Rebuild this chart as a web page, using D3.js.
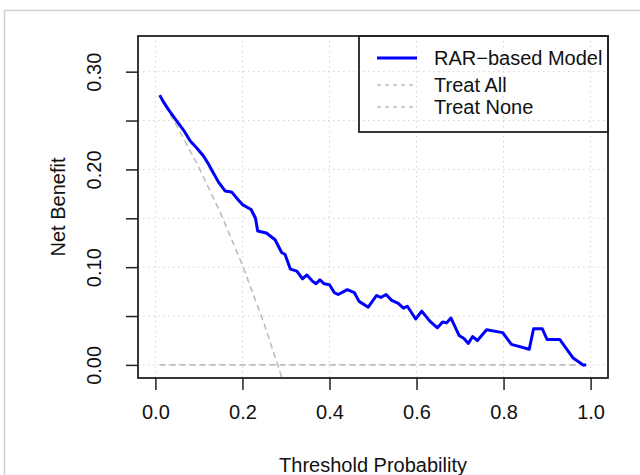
<!DOCTYPE html>
<html>
<head>
<meta charset="utf-8">
<script src="https://cdn.jsdelivr.net/npm/d3@7"></script>
<style>
    body { margin: 0; background: #fff; }
    text { font-family: "Liberation Sans", Arial, sans-serif; fill: #111; }
</style>
</head>
<body>
<script>
// decision curve values
var thresholds = [0.01, 0.02, 0.035, 0.05, 0.065, 0.08, 0.095, 0.11, 0.12, 0.13, 0.145, 0.16, 0.175, 0.19, 0.20,
    0.22, 0.23, 0.235, 0.255, 0.275, 0.29, 0.298, 0.31, 0.325, 0.338, 0.348, 0.36, 0.369, 0.378, 0.388, 0.40,
    0.411, 0.42, 0.441, 0.457, 0.468, 0.489, 0.508, 0.518, 0.53, 0.543, 0.558, 0.57, 0.579, 0.598, 0.612, 0.63,
    0.648, 0.66, 0.669, 0.679, 0.698, 0.709, 0.719, 0.729, 0.74, 0.761, 0.798, 0.818, 0.859, 0.869, 0.889, 0.90,
    0.929, 0.96, 0.983, 0.99];
var modelBenefit = [0.276, 0.268, 0.258, 0.249, 0.240, 0.229, 0.222, 0.214, 0.207, 0.199, 0.187, 0.178, 0.177, 0.169, 0.164,
    0.159, 0.150, 0.137, 0.135, 0.128, 0.115, 0.113, 0.098, 0.096, 0.088, 0.092, 0.086, 0.083, 0.087, 0.083, 0.082,
    0.074, 0.072, 0.077, 0.074, 0.065, 0.059, 0.071, 0.069, 0.072, 0.066, 0.063, 0.058, 0.060, 0.047, 0.055, 0.045,
    0.038, 0.044, 0.043, 0.048, 0.030, 0.027, 0.022, 0.029, 0.025, 0.036, 0.033, 0.021, 0.016, 0.037, 0.037, 0.026,
    0.026, 0.007, 0.000, 0.000];
var treatAllX = [0.01, 0.05, 0.10, 0.15, 0.20, 0.25, 0.30];
var treatAllY = [0.274, 0.244, 0.202, 0.155, 0.102, 0.042, -0.026];
var treatNoneX = [0.01, 0.99];
var treatNoneY = [0, 0];
var xTicks = [0, 0.2, 0.4, 0.6, 0.8, 1.0];
var yTicks = [0, 0.05, 0.10, 0.15, 0.20, 0.25, 0.30];
var yLabelled = [0, 0.10, 0.20, 0.30];
var legendNames = ["RAR\u2212based Model", "Treat All", "Treat None"];

// plot box edges (window.top is taken, so prefix them)
var boxLeft = 138, boxRight = 608, boxTop = 36, boxBottom = 378;

var svg = d3.select("body").append("svg").attr("width", 640).attr("height", 475);

// faint frame around the whole figure
svg.append("rect")
    .attr("x", 4.5).attr("y", 10.5)
    .attr("width", 700).attr("height", 600)
    .attr("fill", "none")
    .attr("stroke", "#cfcfcf")
    .attr("stroke-width", 1.5);

var x = d3.scaleLinear().domain([-0.04, 1.04]).range([boxLeft, boxRight]);
var y = d3.scaleLinear().domain([-0.0134, 0.3365]).range([boxBottom, boxTop]);

svg.append("clipPath").attr("id", "plotclip")
    .append("rect")
    .attr("x", boxLeft).attr("y", boxTop)
    .attr("width", boxRight - boxLeft).attr("height", boxBottom - boxTop);

// dotted grid
svg.append("g").selectAll("line.vgrid")
    .data(xTicks)
    .enter().append("line")
    .attr("x1", function (d) { return x(d); })
    .attr("x2", function (d) { return x(d); })
    .attr("y1", boxTop).attr("y2", boxBottom)
    .attr("stroke", "#d3d3d3")
    .attr("stroke-dasharray", "1.5,3.5");

svg.append("g").selectAll("line.hgrid")
    .data(yTicks)
    .enter().append("line")
    .attr("x1", boxLeft).attr("x2", boxRight)
    .attr("y1", function (d) { return y(d); })
    .attr("y2", function (d) { return y(d); })
    .attr("stroke", "#d3d3d3")
    .attr("stroke-dasharray", "1.5,3.5");

var line = d3.line()
    .x(function (d) { return x(d[0]); })
    .y(function (d) { return y(d[1]); });

var plot = svg.append("g").attr("clip-path", "url(#plotclip)");

plot.append("path")
    .attr("d", line(d3.zip(treatAllX, treatAllY)))
    .attr("fill", "none")
    .attr("stroke", "#bdbdbd")
    .attr("stroke-width", 1.6)
    .attr("stroke-dasharray", "6,4");

plot.append("path")
    .attr("d", line(d3.zip(treatNoneX, treatNoneY)))
    .attr("fill", "none")
    .attr("stroke", "#bdbdbd")
    .attr("stroke-width", 1.6)
    .attr("stroke-dasharray", "6,4");

plot.append("path")
    .attr("d", line(d3.zip(thresholds, modelBenefit)))
    .attr("fill", "none")
    .attr("stroke", "#0000ff")
    .attr("stroke-width", 3)
    .attr("stroke-linejoin", "round");

// axes
var xAxis = svg.append("g")
    .attr("transform", "translate(0," + boxBottom + ")")
    .call(d3.axisBottom(x).tickValues(xTicks).tickSize(12).tickPadding(15).tickFormat(d3.format(".1f")));

var yAxis = svg.append("g")
    .attr("transform", "translate(" + boxLeft + ",0)")
    .call(d3.axisLeft(y).tickValues(yTicks).tickSize(12)
        .tickFormat(function (d) {
            return yLabelled.some(function (v) { return Math.abs(v - d) < 1e-9; }) ? d3.format(".2f")(d) : "";
        }));

[xAxis, yAxis].forEach(function (g) {
    g.select(".domain").remove();
    g.selectAll(".tick line").attr("stroke", "#222").attr("stroke-width", 1.5);
    g.selectAll(".tick text").attr("font-size", 20).style("fill", "#111");
});

yAxis.selectAll(".tick text")
    .attr("x", null).attr("dy", 0)
    .attr("text-anchor", "middle")
    .attr("transform", "translate(-37,0) rotate(-90)");

// plot box
svg.append("rect")
    .attr("x", boxLeft).attr("y", boxTop)
    .attr("width", boxRight - boxLeft).attr("height", boxBottom - boxTop)
    .attr("fill", "none")
    .attr("stroke", "#222")
    .attr("stroke-width", 1.8);

svg.append("text")
    .attr("x", (boxLeft + boxRight) / 2).attr("y", 472)
    .attr("text-anchor", "middle")
    .attr("font-size", 20)
    .text("Threshold Probability");

svg.append("text")
    .attr("transform", "translate(65," + (boxTop + boxBottom) / 2 + ") rotate(-90)")
    .attr("text-anchor", "middle")
    .attr("font-size", 20)
    .text("Net Benefit");

// legend
var legend = svg.append("g");
legend.append("rect")
    .attr("x", 359).attr("y", boxTop)
    .attr("width", boxRight - 359).attr("height", 96)
    .attr("fill", "none")
    .attr("stroke", "#222")
    .attr("stroke-width", 1.8);

var legendY = [58, 85, 107];
var items = legend.selectAll("g.item")
    .data(legendNames)
    .enter().append("g")
    .attr("class", "item")
    .attr("transform", function (d, i) { return "translate(0," + legendY[i] + ")"; });

items.append("line")
    .attr("x1", 377).attr("x2", 417)
    .attr("stroke", function (d, i) { return i === 0 ? "#0000ff" : "#bdbdbd"; })
    .attr("stroke-width", function (d, i) { return i === 0 ? 3 : 1.6; })
    .attr("stroke-dasharray", function (d, i) { return i === 0 ? null : "4,4"; });

items.append("text")
    .attr("x", 434)
    .attr("dy", "0.35em")
    .attr("font-size", 20)
    .text(function (d) { return d; });
</script>
</body>
</html>
